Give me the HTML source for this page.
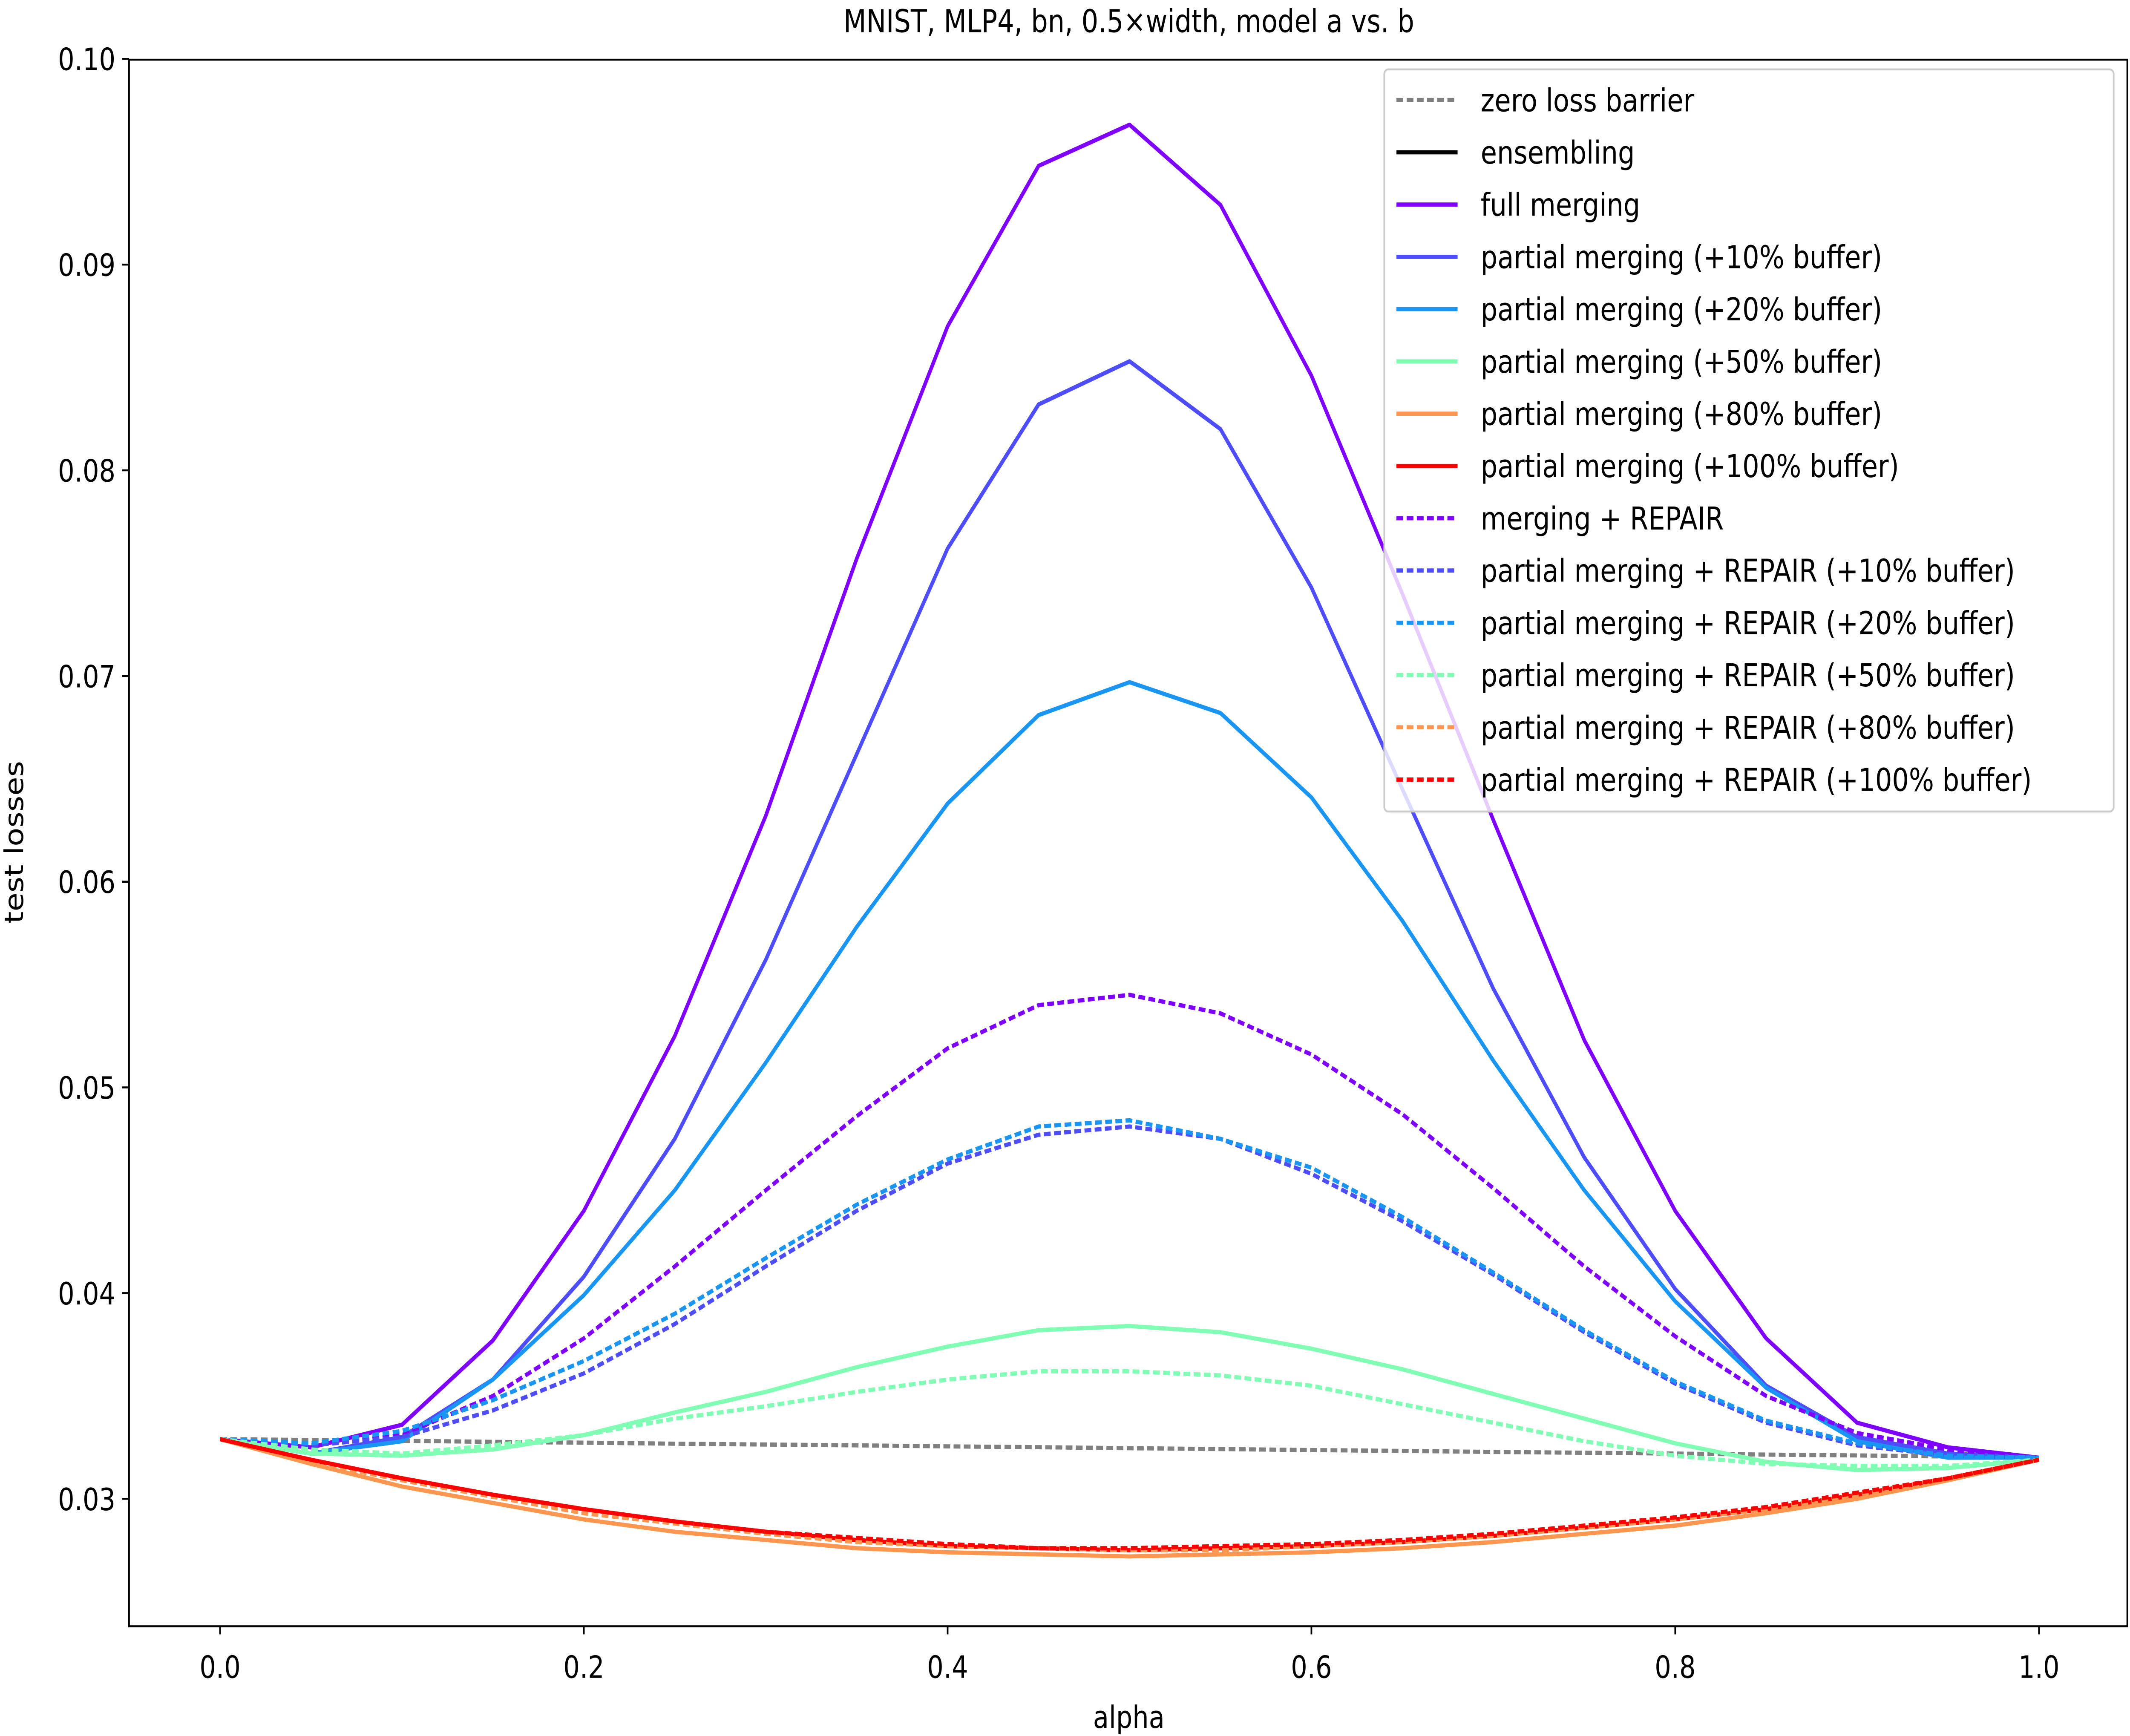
<!DOCTYPE html>
<html><head><meta charset="utf-8"><style>
html,body{margin:0;padding:0;background:#fff;width:100vw;height:100vh;overflow:hidden;}
svg{display:block;position:absolute;left:0;top:0;width:100vw;height:100vh;}
text{font-family:"DejaVu Sans","Liberation Sans",sans-serif;fill:#000;}
</style></head><body>
<svg id="chart" viewBox="0 0 1568 1076" preserveAspectRatio="none" xmlns="http://www.w3.org/2000/svg">
<rect x="0" y="0" width="1568" height="1076" fill="#fff"/>
<text x="831" y="20" font-size="19.5" text-anchor="middle">MNIST, MLP4, bn, 0.5×width, model a vs. b</text>
<g id="plot"></g>
<g id="axes"></g>
<g id="legend"></g>
<text x="831" y="1071" font-size="19" text-anchor="middle">alpha</text>
<text transform="translate(17,522) rotate(-90)" font-size="19" text-anchor="middle">test losses</text>
</svg>
<script>
const alphas = [0,0.05,0.1,0.15,0.2,0.25,0.3,0.35,0.4,0.45,0.5,0.55,0.6,0.65,0.7,0.75,0.8,0.85,0.9,0.95,1.0];
const xTicks = [0.0,0.2,0.4,0.6,0.8,1.0];
const yTicks = [0.03,0.04,0.05,0.06,0.07,0.08,0.09,0.10];
const seriesNames = ["zero loss barrier","ensembling","full merging","partial merging (+10% buffer)","partial merging (+20% buffer)","partial merging (+50% buffer)","partial merging (+80% buffer)","partial merging (+100% buffer)","merging + REPAIR","partial merging + REPAIR (+10% buffer)","partial merging + REPAIR (+20% buffer)","partial merging + REPAIR (+50% buffer)","partial merging + REPAIR (+80% buffer)","partial merging + REPAIR (+100% buffer)"];
const zeroBarrier = [.0329,.03286,.03282,.03277,.03273,.03268,.03264,.0326,.03255,.03251,.03246,.03242,.03237,.03233,.03228,.03224,.0322,.03215,.03211,.03206,.0320];
const ensembling = null;
const fullMerging = [.0329,.0325,.0336,.0377,.0440,.0525,.0632,.0757,.0870,.0948,.0968,.0929,.0846,.0740,.0630,.0523,.0440,.0378,.0337,.0325,.0320];
const partial10 = [.0329,.0322,.0330,.0358,.0408,.0475,.0562,.0662,.0762,.0832,.0853,.0820,.0743,.0645,.0548,.0466,.0402,.0355,.0330,.0322,.0320];
const partial20 = [.0329,.0322,.0328,.0358,.0399,.0450,.0512,.0578,.0638,.0681,.0697,.0682,.0641,.0581,.0513,.0450,.0396,.0354,.0328,.0320,.0320];
const partial50 = [.0329,.0322,.0321,.0324,.0331,.0342,.0352,.0364,.0374,.0382,.0384,.0381,.0373,.0363,.0351,.0339,.0327,.0318,.0314,.0315,.0319];
const partial80 = [.0329,.0317,.0306,.0298,.0290,.0284,.0280,.0276,.0274,.0273,.0272,.0273,.0274,.0276,.0279,.0283,.0287,.0293,.0300,.0309,.0319];
const partial100 = [.0329,.0319,.0310,.0302,.0295,.0289,.0284,.0280,.0277,.0276,.0275,.0276,.0277,.0279,.0282,.0286,.0290,.0295,.0302,.0310,.0319];
const repairFull = [.0329,.0326,.0331,.0350,.0378,.0413,.0450,.0486,.0519,.0540,.0545,.0536,.0516,.0487,.0451,.0413,.0379,.0350,.0332,.0324,.0320];
const repair10 = [.0329,.0326,.0330,.0343,.0361,.0385,.0413,.0440,.0463,.0477,.0481,.0475,.0458,.0435,.0409,.0381,.0356,.0337,.0326,.0321,.0320];
const repair20 = [.0329,.0327,.0333,.0348,.0367,.0390,.0417,.0443,.0465,.0481,.0484,.0475,.0461,.0437,.0410,.0382,.0357,.0338,.0327,.0321,.0320];
const repair50 = [.0329,.0324,.0322,.0326,.0331,.0339,.0345,.0352,.0358,.0362,.0362,.0360,.0355,.0346,.0337,.0328,.0321,.0317,.0316,.0316,.0319];
const repair80 = [.0329,.0318,.0309,.0301,.0293,.0288,.0283,.0279,.0277,.0276,.0275,.0275,.0277,.0279,.0282,.0286,.0290,.0295,.0302,.0310,.0319];
const repair100 = [.0329,.0319,.0310,.0302,.0295,.0289,.0284,.0281,.0278,.0276,.0276,.0277,.0278,.0280,.0283,.0287,.0291,.0296,.0303,.0310,.0319];

const seriesData = [zeroBarrier,ensembling,fullMerging,partial10,partial20,partial50,partial80,partial100,repairFull,repair10,repair20,repair50,repair80,repair100];
const colors = ["#808080","#000000","#8000ff","#4d4dfc","#1996f3","#80ffb4","#ff964f","#ff0000","#8000ff","#4d4dfc","#1996f3","#80ffb4","#ff964f","#ff0000"];
const dashed = [true,false,false,false,false,false,false,false,true,true,true,true,true,true];

const NS="http://www.w3.org/2000/svg";
const X0=95,X1=1566,Y0=37,Y1=1008;
function xs(a){return 162+(1501-162)*a;}
function ys(v){return 929-(v-0.03)*12750;}
function mk(tag,attrs,parent){const e=document.createElementNS(NS,tag);for(const k in attrs)e.setAttribute(k,attrs[k]);parent.appendChild(e);return e;}

const plot=document.getElementById('plot');
const axes=document.getElementById('axes');
const legend=document.getElementById('legend');

seriesData.forEach((d,i)=>{
  if(!d) return;
  const pts=d.map((v,j)=>xs(alphas[j]).toFixed(2)+","+ys(v).toFixed(2)).join(" ");
  const pl=mk('polyline',{points:pts,fill:'none',stroke:colors[i],'stroke-width':2.6,'stroke-linejoin':'round'},plot);
  if(dashed[i]) pl.setAttribute('stroke-dasharray','5,2.5');
  
  
});

const frame=mk('rect',{x:X0,y:Y0,width:X1-X0,height:Y1-Y0,fill:'none',stroke:'#000','stroke-width':1.2},axes);


xTicks.forEach(t=>{
  const x=xs(t);
  const tk=mk('line',{x1:x,x2:x,y1:Y1,y2:Y1+5,stroke:'#000','stroke-width':1.2},axes);
  
  
  const tx=mk('text',{x:x,y:Y1+32,'font-size':19,'text-anchor':'middle'},axes);
  tx.textContent=t.toFixed(1);
  
  
});
yTicks.forEach(t=>{
  const y=ys(t);
  const tk=mk('line',{x1:X0-5,x2:X0,y1:y,y2:y,stroke:'#000','stroke-width':1.2},axes);
  
  
  const tx=mk('text',{x:X0-10,y:y+7,'font-size':19,'text-anchor':'end'},axes);
  tx.textContent=t.toFixed(2);
  
  
});

const lb=mk('rect',{x:1019,y:43,width:537,height:460,rx:3,fill:'#fff','fill-opacity':0.8,stroke:'#ccc','stroke-width':1.2},legend);


seriesNames.forEach((n,i)=>{
  const y=62+i*32.4;
  const ln=mk('line',{x1:1028,x2:1073,y1:y,y2:y,stroke:colors[i],'stroke-width':2.6},legend);
  if(dashed[i]) ln.setAttribute('stroke-dasharray','5,2.5');
  
  
  const tx=mk('text',{x:1090,y:y+7,'font-size':19.5},legend);
  tx.textContent=n;
  
  
});
</script>
</body></html>
